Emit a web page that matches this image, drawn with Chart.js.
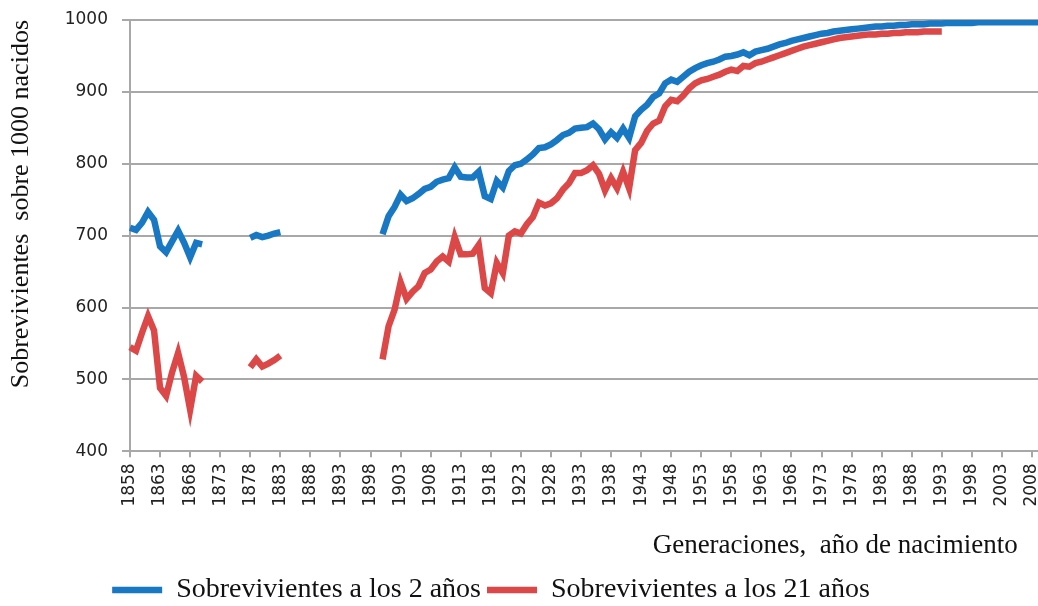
<!DOCTYPE html>
<html lang="es">
<head>
<meta charset="UTF-8">
<title>Sobrevivientes sobre 1000 nacidos</title>
<script src="https://cdn.jsdelivr.net/npm/chart.js"></script>
<style>
    html, body { margin: 0; padding: 0; background: #fff; }
    .grafico { position: relative; width: 1038px; height: 606px; }
</style>
</head>
<body>
<div class="grafico">
    <canvas id="supervivencia"></canvas>
</div>

<script>
    // años de nacimiento 1858..2009
    const anios = [];
    for (let a = 1858; a <= 2009; a++) anios.push(String(a));

    // huecos: 1871-1877 y 1884-1899 sin datos
    const sobrev2 = [
        711, 708, 718, 733, 722, 685, 677, 692, 707, 690, 670, 690, 688,
        null, null, null, null, null, null, null,
        697, 701, 698, 700, 703, 705,
        null, null, null, null, null, null, null, null, null, null, null, null, null, null, null, null,
        702, 727, 740, 757, 748, 752, 758, 765, 768, 775,
        778, 780, 795, 782, 781, 781, 789, 755, 751, 776,
        767, 790, 798, 800, 806, 813, 822, 823, 827, 833,
        840, 843, 849, 850, 851, 856, 848, 834, 844, 836,
        849, 836, 866, 875, 882, 893, 898, 912, 917, 914,
        921, 928, 933, 937, 940, 942, 945, 949, 950, 952,
        955, 951, 956, 958, 960, 963, 966, 968, 971, 973,
        975, 977, 979, 981, 982, 984, 985, 986, 987, 988,
        989, 990, 991, 991, 992, 992, 993, 993, 994, 994,
        994, 995, 995, 995, 996, 996, 996, 996, 996, 997,
        997, 997, 997, 997, 997, 997, 997, 997, 997, 997
    ];

    const sobrev21 = [
        545, 540, 565, 588, 568, 488, 477, 510, 537, 503, 458, 505, 497,
        null, null, null, null, null, null, null,
        517, 528, 518, 522, 527, 533,
        null, null, null, null, null, null, null, null, null, null, null, null, null, null, null, null,
        528, 574, 597, 635, 612, 622, 630, 648, 653, 664,
        671, 664, 698, 674, 674, 675, 687, 627, 620, 662,
        648, 700, 706, 703, 716, 726, 746, 742, 745, 752,
        764, 773, 787, 787, 791, 798, 786, 763, 780, 766,
        789, 766, 819, 829, 846, 856, 860, 880, 889, 887,
        895, 905, 912, 916, 918, 921, 924, 928, 931, 929,
        936, 935, 940, 942, 945, 948, 951, 954, 957, 960,
        963, 965, 967, 969, 971, 973, 975, 976, 977, 978,
        979, 980, 980, 981, 981, 982, 982, 983, 983, 983,
        984, 984, 984, 984
    ];

    const ticksY = [400, 500, 600, 700, 800, 900, 1000];

    // corre la leyenda un poco a la izquierda y abajo, como en el original
    const moverLeyenda = {
        id: 'moverLeyenda',
        afterLayout(chart) {
            const l = chart.legend;
            if (!l) return;
            l.left -= 28; l.right -= 28;
            l.top += 8; l.bottom += 8;
        }
    };

    const ctx = document.getElementById('supervivencia').getContext('2d');

    const grafico = new Chart(ctx, {
        type: 'line',
        data: {
            labels: anios,
            datasets: [
                {
                    label: 'Sobrevivientes a los 2 años',
                    data: sobrev2,
                    borderColor: '#1878c4',
                    backgroundColor: '#1878c4',
                    borderWidth: 6.5,
                    pointRadius: 0,
                    fill: false,
                    tension: 0,
                    spanGaps: false
                },
                {
                    label: 'Sobrevivientes a los 21 años',
                    data: sobrev21,
                    borderColor: '#dc4848',
                    backgroundColor: '#dc4848',
                    borderWidth: 6.5,
                    pointRadius: 0,
                    fill: false,
                    tension: 0,
                    spanGaps: false
                }
            ]
        },
        options: {
            responsive: true,
            maintainAspectRatio: false,
            animation: false,
            layout: {
                padding: { top: 20, right: 0, bottom: 0, left: 0 }
            },
            scales: {
                x: {
                    type: 'category',
                    offset: false,
                    afterFit: function (scale) {
                        scale.paddingRight = 0;
                    },
                    grid: {
                        drawOnChartArea: false,
                        drawTicks: true,
                        tickLength: 6,
                        color: '#a8a8a8',
                        lineWidth: 2
                    },
                    border: { color: '#a8a8a8', width: 2 },
                    ticks: {
                        autoSkip: false,
                        minRotation: 90,
                        maxRotation: 90,
                        padding: 6,
                        color: '#222',
                        font: { family: 'DejaVu Sans', size: 17 },
                        callback: function (value) {
                            const anio = Number(this.getLabelForValue(value));
                            return (anio - 1858) % 5 === 0 ? String(anio) : null;
                        }
                    },
                    title: {
                        display: true,
                        align: 'end',
                        text: 'Generaciones,  año de nacimiento   ',
                        color: '#111',
                        font: { family: 'Liberation Serif', size: 27 },
                        padding: { top: 17, bottom: 0 }
                    }
                },
                y: {
                    min: 400,
                    max: 1000,
                    afterFit: function (scale) {
                        scale.width = 130;
                        scale.paddingTop = 0;
                        scale.paddingBottom = 0;
                    },
                    afterBuildTicks: function (scale) {
                        scale.ticks = ticksY.map(v => ({ value: v }));
                    },
                    grid: {
                        color: '#a8a8a8',
                        lineWidth: 2,
                        drawTicks: true,
                        tickLength: 8
                    },
                    border: { color: '#a8a8a8', width: 2 },
                    ticks: {
                        padding: 14,
                        color: '#222',
                        font: { family: 'DejaVu Sans', size: 17 },
                        callback: v => String(v)
                    },
                    title: {
                        display: true,
                        align: 'end',
                        text: 'Sobrevivientes  sobre 1000 nacidos',
                        color: '#111',
                        font: { family: 'Liberation Serif', size: 26 },
                        padding: { top: 6, bottom: 0 }
                    }
                }
            },
            plugins: {
                legend: {
                    display: true,
                    position: 'bottom',
                    align: 'center',
                    labels: {
                        usePointStyle: true,
                        pointStyle: 'line',
                        pointStyleWidth: 50,
                        color: '#111',
                        padding: 6,
                        font: { family: 'Liberation Serif', size: 28 }
                    }
                },
                tooltip: { enabled: false }
            }
        },
        plugins: [moverLeyenda]
    });
</script>
</body>
</html>
